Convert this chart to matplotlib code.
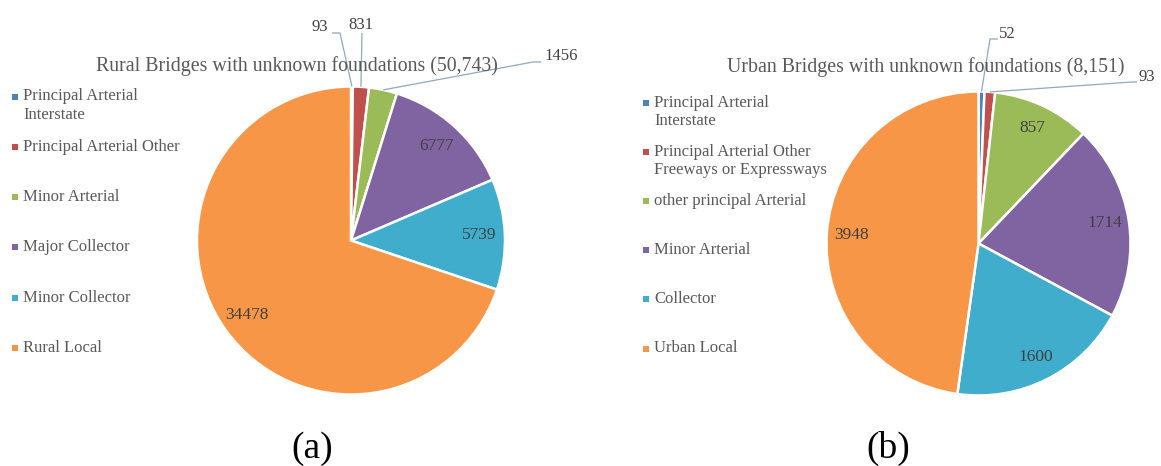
import numpy as np
import matplotlib
matplotlib.use("Agg")
import matplotlib.pyplot as plt

# data
rural_labels = ["Principal Arterial\nInterstate", "Principal Arterial Other",
                "Minor Arterial", "Major Collector", "Minor Collector", "Rural Local"]
rural_values = [93, 831, 1456, 6777, 5739, 34478]
rural_title = "Rural Bridges with unknown foundations (50,743)"

urban_labels = ["Principal Arterial\nInterstate",
                "Principal Arterial Other\nFreeways or Expressways",
                "other principal Arterial", "Minor Arterial", "Collector", "Urban Local"]
urban_values = [52, 93, 857, 1714, 1600, 3948]
urban_title = "Urban Bridges with unknown foundations (8,151)"

colors = ["#4F81BD", "#C0504D", "#9BBB59", "#8064A2", "#40ADCD", "#F79646"]

W, H = 1161, 466
plt.rcParams["font.family"] = ["Liberation Serif", "DejaVu Serif"]
TXT = "#595959"
LEADER = "#8FA9BF"

fig = plt.figure(figsize=(W / 100, H / 100), dpi=100)
ax = fig.add_axes([0, 0, 1, 1])


def Y(y):
    # pixel rows from top -> data y
    return H - y


def draw_pie(values, center, radius, inside_dist, outside):
    wedges, _ = ax.pie(values, colors=colors, startangle=90, counterclock=False,
                       center=(center[0], Y(center[1])), radius=radius,
                       wedgeprops=dict(edgecolor="white", linewidth=1.8))
    for i, w in enumerate(wedges):
        ang = np.deg2rad((w.theta1 + w.theta2) / 2)
        cx, cy = w.center
        if i in outside:
            (tx, ty), kink, stub = outside[i]
            ex, ey = cx + radius * np.cos(ang), cy + radius * np.sin(ang)
            ax.plot([stub, kink[0], ex], [Y(kink[1]), Y(kink[1]), ey],
                    color=LEADER, lw=0.9, solid_capstyle="butt")
            ax.text(tx, Y(ty), str(values[i]), ha="center", va="center",
                    fontsize=12, color="#404040")
        else:
            ax.text(cx + inside_dist * radius * np.cos(ang),
                    cy + inside_dist * radius * np.sin(ang),
                    str(values[i]), ha="center", va="center",
                    fontsize=12.5, color="#404040")


def draw_legend(labels, x0, y0, step):
    for i, lab in enumerate(labels):
        y = y0 + i * step
        ax.scatter([x0], [Y(y)], marker="s", s=16, color=colors[i], linewidths=0)
        ax.text(x0 + 8.5, Y(y - 8), lab, ha="left", va="top",
                fontsize=12, color=TXT, linespacing=1.2)


# (a) rural
draw_pie(rural_values, (351, 240.5), 154, 0.83,
         {0: ((320, 27), (340, 33), 332),
          1: ((361, 25), (362, 33), 362),
          2: ((561, 56), (533, 62), 541)})
ax.text(297, Y(66), rural_title, ha="center", va="center", fontsize=14.3, color=TXT)
draw_legend(rural_labels, 14.5, 96.5, 50.3)
ax.text(312, Y(458), "(a)", ha="center", va="baseline", fontsize=27, color="black")

# (b) urban
draw_pie(urban_values, (978.5, 243.5), 152, 0.84,
         {0: ((1007, 34), (990, 39), 998),
          1: ((1147, 77), (1132, 82), 1137)})
ax.text(926, Y(67), urban_title, ha="center", va="center", fontsize=14.3, color=TXT)
draw_legend(urban_labels, 645.5, 103, 49.1)
ax.text(888, Y(458), "(b)", ha="center", va="baseline", fontsize=27, color="black")

ax.set_xlim(0, W)
ax.set_ylim(0, H)
ax.set_aspect("equal")
ax.axis("off")

fig.savefig("out.png", dpi=100, facecolor="white")
